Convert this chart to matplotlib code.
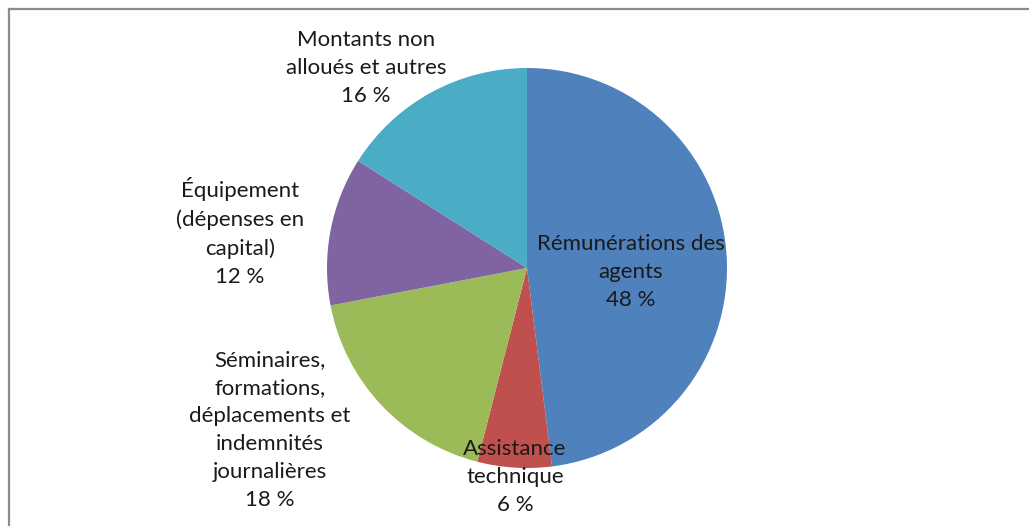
import matplotlib
matplotlib.use("Agg")
import matplotlib.pyplot as plt
from matplotlib.lines import Line2D

# Data
categories = [
    "Rémunérations des\nagents",
    "Assistance\ntechnique",
    "Séminaires,\nformations,\ndéplacements et\nindemnités\njournalières",
    "Équipement\n(dépenses en\ncapital)",
    "Montants non\nalloués et autres",
]
values = [48, 6, 18, 12, 16]
colors = ["#4F81BD", "#C0504D", "#9BBB59", "#8064A2", "#4BACC6"]

W, H = 1029, 526
plt.rcParams['font.family'] = ['Lato', 'DejaVu Sans']

fig = plt.figure(figsize=(W / 100, H / 100), dpi=100)
ax = fig.add_axes([0, 0, 1, 1])

cx, cy, r = 527, H - 268, 200
ax.pie(values, colors=colors, startangle=90, counterclock=False,
       center=(cx, cy), radius=r, frame=True,
       wedgeprops=dict(linewidth=0))
ax.set_xlim(0, W)
ax.set_ylim(0, H)
ax.set_aspect('equal')
ax.axis('off')

# label layout (pixel positions of text block centers)
label_pos = [(631, 272), (515, 477), (270, 430), (240, 232), (366, 68)]
for cat, v, (x, y) in zip(categories, values, label_pos):
    ax.text(x, H - y, f"{cat}\n{v} %", ha='center', va='center',
            fontsize=16, color='#1a1a1a', linespacing=1.5)

# frame border
fig.add_artist(Line2D([9 / W, 1.01], [1 - 9 / H, 1 - 9 / H], color='#8c8c8c', lw=1.6,
                      transform=fig.transFigure))
fig.add_artist(Line2D([9 / W, 9 / W], [1 - 9 / H, -0.01], color='#8c8c8c', lw=1.6,
                      transform=fig.transFigure))

fig.savefig("out.png", dpi=100, facecolor='white')
